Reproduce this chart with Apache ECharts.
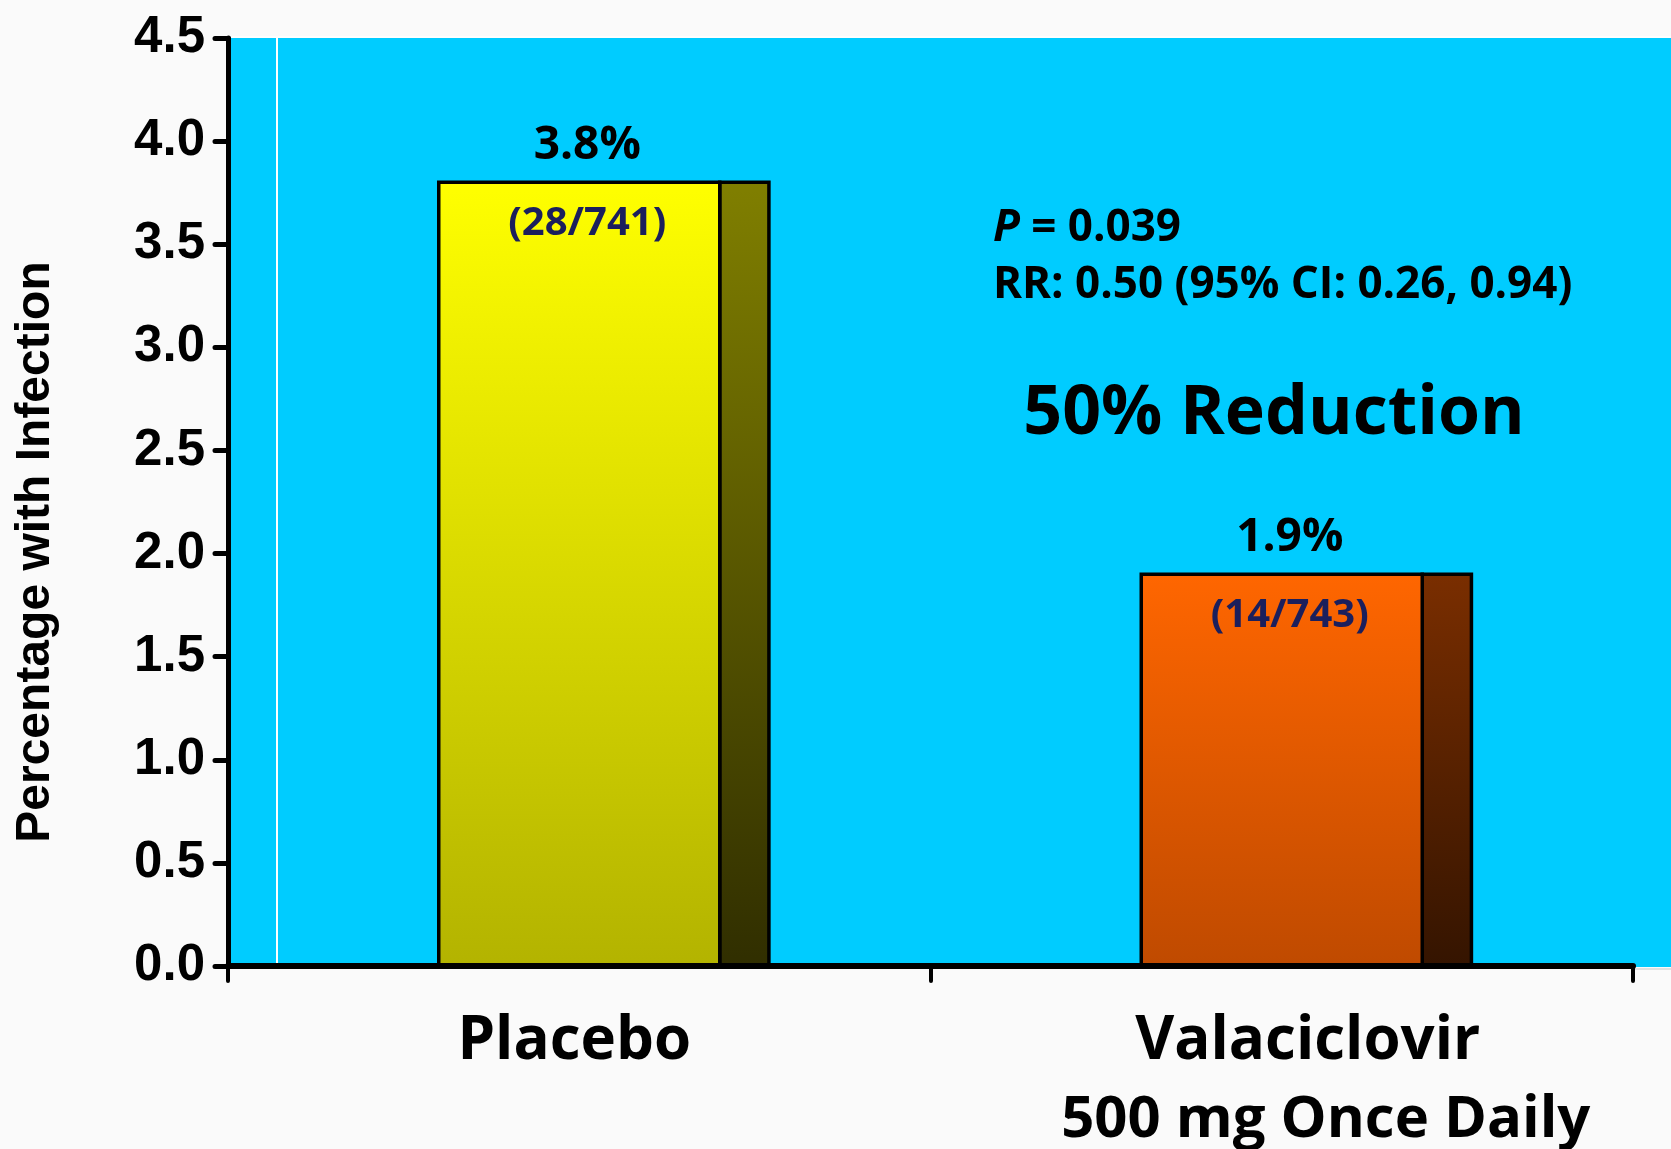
<!DOCTYPE html>
<html>
<head>
<meta charset="utf-8">
<script src="https://cdn.jsdelivr.net/npm/echarts@6/dist/echarts.min.js"></script>
<style>
html,body{margin:0;padding:0;background:#FAFAFA;}
#chart{width:1671px;height:1149px;}
</style>
</head>
<body>
<div id="chart"></div>
<script>
// ---- data ----
const categories = ['Placebo', 'Valaciclovir\n500 mg Once Daily'];
const values = [3.8, 1.9];
const countLabels = ['(28/741)', '(14/743)'];
const yAxisTitle = 'Percentage with Infection';
const yMin = 0, yMax = 4.5, yStep = 0.5;
const noteP = '0.039';
const noteRR = 'RR: 0.50 (95% CI: 0.26, 0.94)';
const noteReduction = '50% Reduction';

// ---- styles ----
const barColors = [
  {front: ['#FFFF00', '#B3B300'], side: ['#807F00', '#302E00']},
  {front: ['#FF6600', '#BF4A00'], side: ['#7A2E00', '#341400']}
];
const SANS = '"Open Sans", "Noto Sans", sans-serif';
const ARIAL = '"Liberation Sans", Arial, sans-serif';

const chart = echarts.init(document.getElementById('chart'), null, {renderer: 'canvas'});

function grad(c) {
  return new echarts.graphic.LinearGradient(0, 0, 0, 1, [
    {offset: 0, color: c[0]}, {offset: 1, color: c[1]}
  ]);
}

const shadow = {textShadowColor: '#A0A0A0', textShadowOffsetX: 3, textShadowOffsetY: 3};

const option = {
  backgroundColor: '#FAFAFA',
  animation: false,
  grid: {
    left: 228, right: 38, top: 38, bottom: 180,
    show: true, backgroundColor: '#00CCFF', borderWidth: 0
  },
  xAxis: {
    type: 'category',
    data: categories,
    boundaryGap: true,
    z: 5,
    axisLine: {lineStyle: {color: '#000', width: 6}},
    axisTick: {show: true, length: 15, lineStyle: {color: '#000', width: 4, cap: 'round'}},
    axisLabel: {
      margin: 37,
      interval: 0,
      formatter: function (v, i) {
        if (i === 0) return '{a|' + v + '}';
        const parts = v.split('\n');
        return '{b|' + parts[0] + '}\n{c|' + parts[1] + '}';
      },
      rich: {
        a: Object.assign({fontFamily: SANS, fontWeight: 'bold', fontSize: 60, color: '#000', lineHeight: 78,
            padding: [0, 10, 0, 0]}, shadow),
        b: Object.assign({fontFamily: SANS, fontWeight: 'bold', fontSize: 60, color: '#000', lineHeight: 78,
            padding: [0, 0, 0, 52]}, shadow),
        c: Object.assign({fontFamily: SANS, fontWeight: 'bold', fontSize: 58, color: '#000', lineHeight: 78,
            padding: [0, 0, 0, 88]}, shadow)
      }
    }
  },
  yAxis: {
    type: 'value',
    min: yMin, max: yMax, interval: yStep,
    splitLine: {show: false},
    name: yAxisTitle,
    nameLocation: 'middle',
    nameRotate: 90,
    nameGap: 168,
    nameTextStyle: {
      fontFamily: ARIAL, fontWeight: 'bold', fontSize: 48, color: '#000',
      padding: [0, 100, 0, 0],
      textShadowColor: '#A0A0A0', textShadowOffsetX: 2, textShadowOffsetY: 2
    },
    axisLine: {show: true, lineStyle: {color: '#000', width: 5}},
    axisTick: {show: true, length: 13, lineStyle: {color: '#000', width: 5, cap: 'round'}},
    axisLabel: {
      margin: 23,
      fontFamily: ARIAL,
      fontWeight: 'bold', fontSize: 51, color: '#000',
      formatter: function (v) { return v.toFixed(1); }
    }
  },
  graphic: [
    {type: 'line', z: 1, shape: {x1: 277, y1: 38, x2: 277, y2: 966}, style: {stroke: '#FFFFFF', lineWidth: 2}},
    {type: 'rect', z: 0, shape: {x: 1633, y: 38, width: 38, height: 929}, style: {fill: '#00CCFF'}},
    {type: 'line', z: 0, shape: {x1: 1633, y1: 969, x2: 1671, y2: 969}, style: {stroke: '#C8C8C8', lineWidth: 1}},
    {type: 'line', z: 0, shape: {x1: 228, y1: 37, x2: 1671, y2: 37}, style: {stroke: '#FFFFFF', lineWidth: 1.5}},
    {type: 'text', z: 10, x: 993, y: 228, style: {
      text: '{i|P} = ' + noteP,
      font: 'bold 44px ' + SANS, fill: '#000', verticalAlign: 'middle', align: 'left',
      rich: {i: {fontStyle: 'italic', fontWeight: 'bold', fontSize: 44, fontFamily: SANS, fill: '#000'}}
    }},
    {type: 'text', z: 10, x: 993, y: 285, style: {
      text: noteRR, font: 'bold 44px ' + SANS, fill: '#000', verticalAlign: 'middle', align: 'left'
    }},
    {type: 'text', z: 10, x: 1274, y: 415, style: {
      text: noteReduction, font: 'bold 68px ' + SANS, fill: '#000', verticalAlign: 'middle', align: 'center'
    }}
  ],
  series: [{
    type: 'custom',
    z: 3,
    data: values.map(function (v, i) { return [i, v]; }),
    encode: {x: 0, y: 1},
    renderItem: function (params, api) {
      const i = api.value(0);
      const v = api.value(1);
      const top = api.coord([i, v]);
      const base = api.coord([i, 0]);
      const band = api.size([1, 0])[0];
      const fw = band * 0.4;
      const sw = band * 0.07;
      const x0 = top[0] - fw / 2;
      const h = base[1] - top[1];
      const col = barColors[i];
      return {
        type: 'group',
        children: [
          {type: 'rect', shape: {x: x0 + fw, y: top[1], width: sw, height: h},
           style: {fill: grad(col.side), stroke: '#000', lineWidth: 3.5}},
          {type: 'rect', shape: {x: x0, y: top[1], width: fw, height: h},
           style: {fill: grad(col.front), stroke: '#000', lineWidth: 3.5}},
          {type: 'text', x: top[0] + 8, y: top[1] - 36,
           style: {text: v.toFixed(1) + '%', font: 'bold 46px ' + SANS, fill: '#000',
                   align: 'center', verticalAlign: 'middle',
                   textShadowColor: '#9A9A9A', textShadowOffsetX: 2, textShadowOffsetY: 2}},
          {type: 'text', x: top[0] + 8, y: top[1] + 41,
           style: {text: countLabels[i], font: 'bold 40px ' + SANS, fill: '#1B1F5C',
                   align: 'center', verticalAlign: 'middle'}}
        ]
      };
    }
  }]
};
chart.setOption(option);
</script>
</body>
</html>
